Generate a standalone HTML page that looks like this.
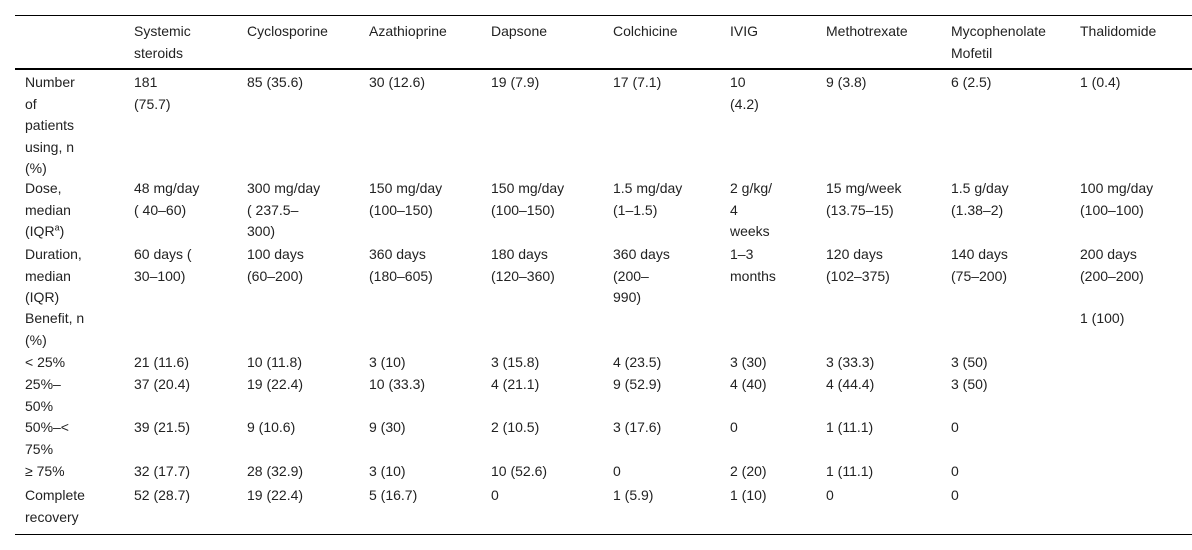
<!DOCTYPE html>
<html><head><meta charset="utf-8">
<style>
body{margin:0;width:1192px;height:550px;background:#fff;position:relative;overflow:hidden;font-family:"Liberation Sans",Arial,sans-serif;font-size:14px;line-height:21.5px;color:#222}
.c{position:absolute;white-space:nowrap}
.ln{position:absolute;left:15px;right:0;background:#000}
</style></head><body>
<div class="ln" style="top:15px;height:1px"></div>
<div class="ln" style="top:68px;height:2px"></div>
<div class="ln" style="top:534px;height:1px"></div>
<div id="t"></div>
<script>
const xs=[25,134,247,369,491,613,730,826,951,1080];
const rows=[
[21,["","Systemic<br>steroids","Cyclosporine","Azathioprine","Dapsone","Colchicine","IVIG","Methotrexate","Mycophenolate<br>Mofetil","Thalidomide"]],
[72,["Number<br>of<br>patients<br>using, n<br>(%)","181<br>(75.7)","85 (35.6)","30 (12.6)","19 (7.9)","17 (7.1)","10<br>(4.2)","9 (3.8)","6 (2.5)","1 (0.4)"]],
[178,["Dose,<br>median<br>(IQR<sup style='font-size:9px;line-height:0'>a</sup>)","48 mg/day<br>( 40–60)","300 mg/day<br>( 237.5–<br>300)","150 mg/day<br>(100–150)","150 mg/day<br>(100–150)","1.5 mg/day<br>(1–1.5)","2 g/kg/<br>4<br>weeks","15 mg/week<br>(13.75–15)","1.5 g/day<br>(1.38–2)","100 mg/day<br>(100–100)"]],
[244,["Duration,<br>median<br>(IQR)","60 days (<br>30–100)","100 days<br>(60–200)","360 days<br>(180–605)","180 days<br>(120–360)","360 days<br>(200–<br>990)","1–3<br>months","120 days<br>(102–375)","140 days<br>(75–200)","200 days<br>(200–200)"]],
[308,["Benefit, n<br>(%)","","","","","","","","","1 (100)"]],
[352,["&lt; 25%","21 (11.6)","10 (11.8)","3 (10)","3 (15.8)","4 (23.5)","3 (30)","3 (33.3)","3 (50)",""]],
[374,["25%–<br>50%","37 (20.4)","19 (22.4)","10 (33.3)","4 (21.1)","9 (52.9)","4 (40)","4 (44.4)","3 (50)",""]],
[417,["50%–&lt;<br>75%","39 (21.5)","9 (10.6)","9 (30)","2 (10.5)","3 (17.6)","0","1 (11.1)","0",""]],
[461,["≥ 75%","32 (17.7)","28 (32.9)","3 (10)","10 (52.6)","0","2 (20)","1 (11.1)","0",""]],
[485,["Complete<br>recovery","52 (28.7)","19 (22.4)","5 (16.7)","0","1 (5.9)","1 (10)","0","0",""]]
];
const t=document.getElementById('t');
rows.forEach(([y,cells],ri)=>{cells.forEach((h,ci)=>{if(!h)return;const d=document.createElement('div');d.className='c';d.style.left=xs[ci]+'px';d.style.top=y+'px';d.innerHTML=h;


t.appendChild(d);});});
</script>
</body></html>
